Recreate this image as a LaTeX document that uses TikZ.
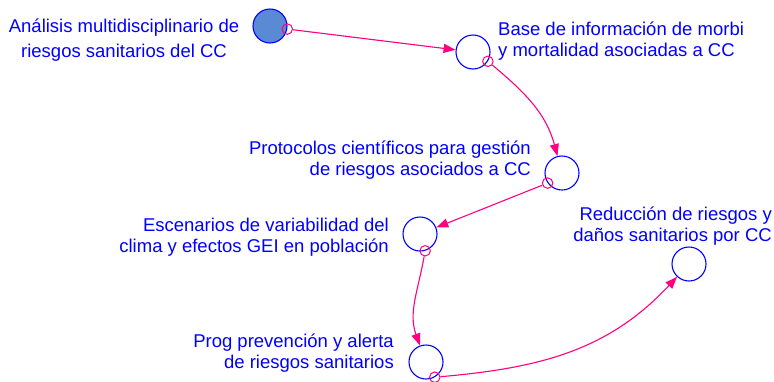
\documentclass[tikz,border=0pt]{standalone}
\usepackage{fontspec}
\setmainfont{Liberation Sans}
\usetikzlibrary{arrows.meta}
\definecolor{txtblue}{RGB}{0,0,255}
\definecolor{lnk}{RGB}{255,0,128}
\definecolor{fillb}{RGB}{90,138,212}
\begin{document}
\begin{tikzpicture}[x=1pt,y=-1pt,
  stock/.style={circle,draw=txtblue,line width=1.1pt,minimum size=34pt,inner sep=0pt},
  linkmark/.style={circle,draw=lnk,line width=1pt,minimum size=10.5pt,inner sep=0pt},
  lbl/.style={text=txtblue,font=\fontsize{18.5}{20.5}\selectfont,inner sep=0pt},
  link/.style={draw=lnk,line width=1.1pt,-{Triangle[length=12pt,width=9pt]}}]
\useasboundingbox (0,0) rectangle (774,381);
% stocks
\node[stock,fill=fillb] (c1) at (270,26) {};
\node[stock] (c2) at (473,52) {};
\node[stock] (c3) at (562,173) {};
\node[stock] (c4) at (420,234) {};
\node[stock] (c5) at (426,362) {};
\node[stock] (c6) at (689,264) {};
% labels (base = baseline of the last line)
\node[lbl,anchor=base,align=center] (t1) at (124,57) {Análisis multidisciplinario de\\[4pt]riesgos sanitarios del CC};
\node[lbl,anchor=base west,align=left] (t2) at (498,56) {Base de información de morbi\\y mortalidad asociadas a CC};
\node[lbl,anchor=base east,align=right] (t3) at (531,175) {Protocolos científicos para gestión\\de riesgos asociados a CC};
\node[lbl,anchor=base east,align=right] (t4) at (389,252) {Escenarios de variabilidad del\\clima y efectos GEI en población};
\node[lbl,anchor=base east,align=right] (t5) at (772,241) {Reducción de riesgos y\\daños sanitarios por CC};
\node[lbl,anchor=base east,align=right] (t6) at (394,368) {Prog prevención y alerta\\de riesgos sanitarios};
% link origin markers
\node[linkmark] (m1) at (c1.-10) {};
\node[linkmark] (m2) at (c2.-32) {};
\node[linkmark] (m3) at (c3.215) {};
\node[linkmark] (m4) at (c4.-73) {};
\node[linkmark] (m5) at (c5.-60) {};
% links
\draw[link] (m1) -- (c2);
\draw[link] (m2) to[out=-40,in=105] (c3);
\draw[link] (m3) -- (c4);
\draw[link] (m4) to[out=-100,in=110] (c5);
\draw[link] (m5) to[out=5,in=-133] (c6);
\end{tikzpicture}
\end{document}
